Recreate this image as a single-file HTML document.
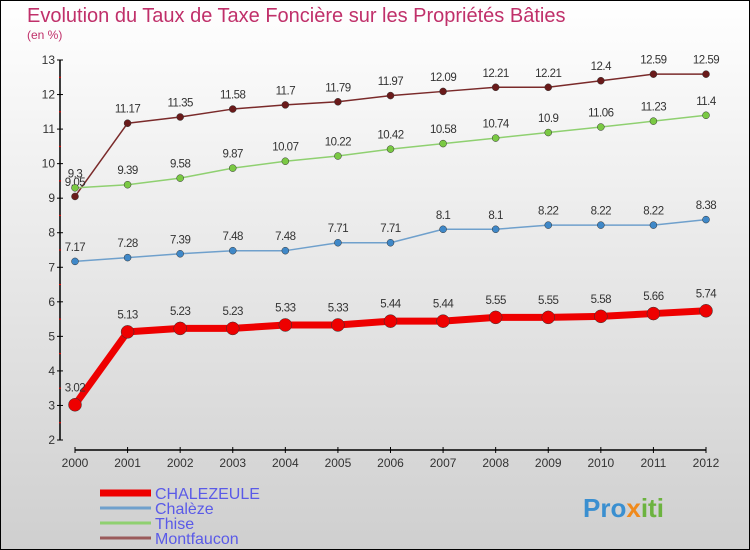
<!DOCTYPE html>
<html><head><meta charset="utf-8"><style>
body{margin:0;}
#wrap{width:750px;height:550px;position:relative;overflow:hidden;}
svg{display:block;font-family:"Liberation Sans",sans-serif;}
</style></head><body>
<div id="wrap">
<svg id="chart" width="750" height="550">
<defs><linearGradient id="bg" x1="0" y1="0" x2="0" y2="1"><stop offset="0" stop-color="#ffffff"/><stop offset="1" stop-color="#cfcfcf"/></linearGradient></defs>
<rect x="0.5" y="0.5" width="749" height="549" fill="url(#bg)" stroke="#000"/>
<text x="27" y="22" font-size="20" fill="#c0306a">Evolution du Taux de Taxe Foncière sur les Propriétés Bâties</text>
<text x="27" y="39" font-size="12" fill="#c0306a">(en %)</text>
<g id="axes"></g><g id="series"></g><g id="legend"></g>
<text x="583" y="517" font-size="26" font-weight="bold" fill="#3a8fd0">Pro<tspan fill="#f08a1c">x</tspan><tspan fill="#6cb33f">iti</tspan></text>
</svg></div>
<script>
const years=[2000,2001,2002,2003,2004,2005,2006,2007,2008,2009,2010,2011,2012];
const yTicks=[2,3,4,5,6,7,8,9,10,11,12,13];
const chalezeule=[3.02,5.13,5.23,5.23,5.33,5.33,5.44,5.44,5.55,5.55,5.58,5.66,5.74];
const chaleze=[7.17,7.28,7.39,7.48,7.48,7.71,7.71,8.1,8.1,8.22,8.22,8.22,8.38];
const thise=[9.3,9.39,9.58,9.87,10.07,10.22,10.42,10.58,10.74,10.9,11.06,11.23,11.4];
const montfaucon=[9.05,11.17,11.35,11.58,11.7,11.79,11.97,12.09,12.21,12.21,12.4,12.59,12.59];
const labels=["CHALEZEULE","Chalèze","Thise","Montfaucon"];
const NS="http://www.w3.org/2000/svg";
const X=i=>75+i*(706-75)/(years.length-1);
const Y=v=>440-(v-2)*(380/11);
function mk(tag,at,parent,txt){const e=document.createElementNS(NS,tag);for(const k in at)e.setAttribute(k,at[k]);if(txt!==undefined)e.textContent=txt;parent.appendChild(e);return e;}
const ax=document.getElementById('axes');
let e=mk('line',{x1:60,y1:60,x2:60,y2:440,stroke:'#000','stroke-width':1.5},ax);


e=mk('line',{x1:75,y1:450,x2:706,y2:450,stroke:'#000','stroke-width':1.5},ax);


yTicks.forEach(t=>{const y=Y(t);
mk('line',{x1:57,y1:y,x2:63,y2:y,stroke:'#000'},ax);
if(t<13)mk('line',{x1:59,y1:Y(t+0.5),x2:61,y2:Y(t+0.5),stroke:'#e00'},ax);
e=mk('text',{x:55,y:y+4,'font-size':12,fill:'#333','text-anchor':'end'},ax,String(t));

});
years.forEach((yr,i)=>{mk('line',{x1:X(i),y1:447,x2:X(i),y2:453,stroke:'#000'},ax);
e=mk('text',{x:X(i),y:467,'font-size':12,fill:'#333','text-anchor':'middle'},ax,String(yr));

});
const sg=document.getElementById('series');
const defs=[[montfaucon,'#7a2a2a','#6a1a1a',1.5,3.5,'montfaucon'],[thise,'#8fd070','#7ac943',1.5,3.5,'thise'],[chaleze,'#6fa0cc','#3f88c8',1.5,3.5,'chaleze'],[chalezeule,'#ee0000','#ee0000',7,6.5,'chalezeule']];
defs.forEach(([d,lc,pc,w,r,nm])=>{
const g=mk('g',{},sg);


const line=mk('polyline',{points:d.map((v,i)=>X(i)+','+Y(v)).join(' '),fill:'none',stroke:lc,'stroke-width':w,'stroke-linejoin':'round'},g);


d.forEach((v,i)=>{const c=mk('circle',{cx:X(i),cy:Y(v),r:r,fill:pc,stroke:'#333','stroke-width':0.5},g);


const t=mk('text',{x:X(i),y:Y(v)-(r+7),'font-size':11.5,fill:'#333','text-anchor':'middle','letter-spacing':'-0.5'},g,String(v));

});});
const lg=document.getElementById('legend');
const lcols=['#ee0000','#6fa0cc','#8fd070','#9a5a5a'],lw=[7,3,3,3],ly=[493,508,523,538];
labels.forEach((l,i)=>{const g=mk('g',{},lg);


mk('line',{x1:100,y1:ly[i],x2:151,y2:ly[i],stroke:lcols[i],'stroke-width':lw[i]},g);
mk('text',{x:155,y:ly[i]+6,'font-size':16,fill:'#5a5ae8'},g,l);});
</script></body></html>
